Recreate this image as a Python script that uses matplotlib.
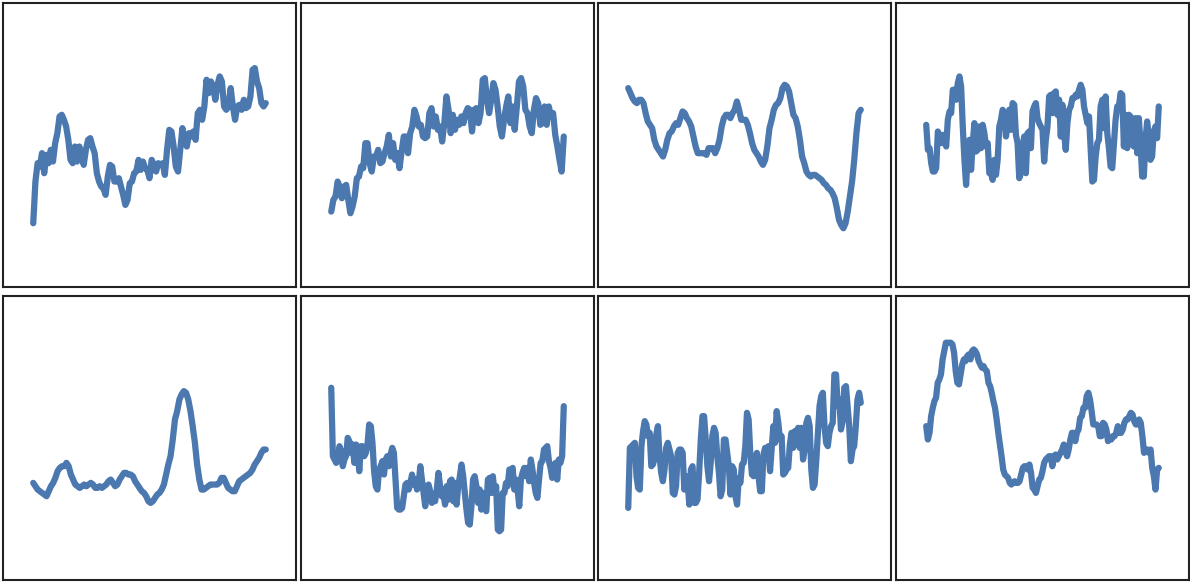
import matplotlib
matplotlib.use('Agg')
from matplotlib import pyplot as plt

# Значения (условная шкала 139..990)
s1 = [330,455,510,500,540,480,535,510,550,515,570,600,650,655,640,620,580,520,510,560,515,560,540,505,550,580,585,560,540,480,455,440,435,415,470,505,500,455,455,465,440,415,385,400,450,455,480,485,520,490,515,495,490,465,520,505,485,510,505,510,475,550,610,605,560,500,485,550,615,580,560,600,590,605,580,660,670,640,680,760,720,755,740,700,745,770,755,680,670,680,735,680,640,680,685,670,700,675,680,710,790,795,755,735,690,680,690]
s2 = [365,400,410,455,440,405,440,445,400,360,380,410,465,470,500,495,570,570,510,485,530,530,550,510,515,540,560,595,530,570,520,540,495,545,590,590,540,600,620,670,650,620,625,590,585,590,660,675,620,650,610,620,575,630,710,670,600,655,610,640,625,650,630,660,675,670,605,670,675,630,660,760,765,700,660,700,750,730,680,620,590,640,680,710,630,680,610,680,755,765,740,670,660,620,600,670,705,690,625,630,680,625,680,650,660,595,560,520,485,590]
s3 = [735,720,705,695,690,700,700,690,660,635,625,615,580,560,550,540,530,550,580,600,605,620,630,625,645,665,660,645,635,620,590,560,540,540,540,540,535,555,555,555,540,555,580,620,645,655,655,645,660,670,695,670,640,640,640,625,600,570,550,540,530,515,505,520,560,615,640,670,685,690,705,735,745,740,725,690,655,645,620,580,530,510,485,475,470,475,475,470,465,460,450,445,435,430,420,405,375,340,325,315,330,365,410,455,520,600,660,670]
s4 = [625,550,555,510,485,485,495,605,590,570,595,585,560,640,665,660,730,730,700,750,770,740,620,520,445,540,580,490,570,630,545,550,620,555,625,600,560,570,480,480,460,520,475,520,620,640,670,660,590,625,670,610,690,685,595,570,465,480,560,590,480,600,605,555,665,680,690,645,630,620,610,515,580,620,710,715,660,720,725,655,700,590,685,600,550,630,670,680,705,705,715,710,730,745,730,680,655,630,650,550,455,460,530,570,580,680,700,615,710,600,555,500,495,570,640,680,680,720,715,560,655,555,655,650,620,560,645,540,645,570,470,470,580,635,590,520,530,605,620,585,680]
s5 = [430,420,410,405,400,395,390,405,420,430,445,465,475,480,480,490,480,455,440,425,420,415,420,425,420,425,430,425,415,415,420,415,420,425,435,440,430,420,425,440,450,460,460,455,455,450,435,425,415,405,400,390,375,370,375,385,395,400,410,425,455,485,510,560,620,645,680,695,705,700,680,645,600,550,485,440,410,410,415,420,425,425,425,425,430,445,445,430,415,410,405,405,420,435,440,445,450,455,460,470,485,495,505,520,530,530]
s6 = [715,510,500,490,495,540,525,480,500,510,565,555,520,545,490,545,525,465,540,540,510,520,545,605,600,550,465,420,410,470,480,495,455,500,510,480,515,535,520,440,355,350,350,355,390,425,430,410,430,455,425,440,410,425,480,440,400,360,420,425,405,370,390,375,410,460,420,390,400,365,420,380,435,440,375,430,365,420,450,485,450,400,350,310,305,360,440,450,420,370,410,350,400,360,345,440,445,400,450,400,420,290,285,290,400,400,430,420,470,465,475,410,440,410,360,440,460,475,450,475,435,500,470,430,400,385,440,490,495,530,535,540,495,475,445,480,490,440,500,490,510,660]
s7 = [355,535,540,545,550,450,415,410,540,585,615,605,570,580,480,485,505,575,600,510,460,435,470,535,550,530,510,400,395,420,520,530,530,520,410,450,440,365,470,480,370,370,380,460,560,630,630,560,480,435,490,570,595,580,510,460,390,410,560,560,520,480,395,480,470,390,365,445,430,485,490,540,640,620,520,455,450,470,520,450,405,405,515,535,530,540,465,535,600,550,645,610,560,570,455,460,470,475,545,580,535,585,580,595,535,595,500,530,610,625,600,470,415,425,495,580,660,690,700,600,550,540,580,600,610,755,755,660,680,590,615,715,720,660,600,495,530,540,600,680,700,670]
s8 = [600,560,580,630,655,675,685,730,740,755,800,825,850,850,850,850,845,820,765,730,725,755,785,800,795,810,815,800,825,830,825,815,795,785,775,780,770,765,730,720,700,675,655,620,580,545,510,470,455,450,445,430,425,430,435,430,430,435,455,475,480,480,470,485,460,415,410,400,420,440,445,465,490,500,505,510,510,480,510,515,500,510,520,530,545,525,510,530,560,580,580,555,580,590,625,630,655,655,690,700,680,645,605,605,605,600,570,570,610,605,590,555,565,560,570,570,580,600,580,580,590,610,620,620,630,640,635,615,605,605,620,610,570,520,530,530,520,530,475,450,410,470,475]

series = [s1, s2, s3, s4, s5, s6, s7, s8]

W, H = 1190, 583
fig = plt.figure(figsize=(11.9, 5.83), dpi=100)

lefts = [3, 301, 598, 896]
tops = [3, 296]
for i, s in enumerate(series):
    row, col = divmod(i, 4)
    l = lefts[col] / W
    b = (H - tops[row] - 284) / H
    ax = fig.add_axes([l, b, 293 / W, 284 / H])
    ax.plot(range(len(s)), s, color='#4C78B0', lw=4.5, solid_capstyle='round',
            solid_joinstyle='round')
    ax.margins(x=0.13)
    ax.set_ylim(139, 990)
    ax.set_xticks([])
    ax.set_yticks([])
    for sp in ax.spines.values():
        sp.set_color('#222222')
        sp.set_linewidth(1.5)

fig.savefig('out.png', dpi=100)
